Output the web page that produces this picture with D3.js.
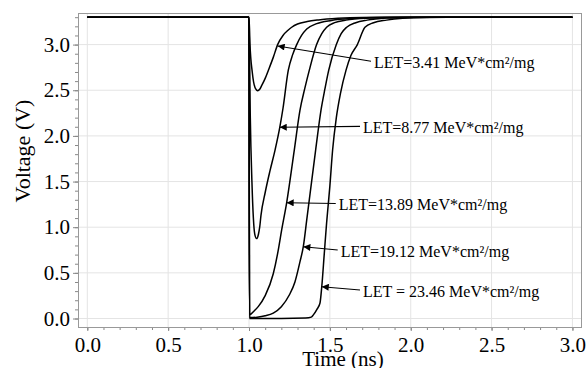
<!DOCTYPE html>
<html>
<head>
<meta charset="utf-8">
<script src="https://cdn.jsdelivr.net/npm/d3@7"></script>
<style>
  html, body { margin: 0; padding: 0; background: #fff; }
  svg { display: block; }
</style>
</head>
<body>
<svg id="chart" width="588" height="368"></svg>
<script>
// Output voltage transients (t in ns, V in volts) for five LET values
const letLabels = [
  "LET=3.41 MeV*cm²/mg",
  "LET=8.77 MeV*cm²/mg",
  "LET=13.89 MeV*cm²/mg",
  "LET=19.12 MeV*cm²/mg",
  "LET = 23.46 MeV*cm²/mg"
];

const let341 = [
  [0,3.3],[1.0,3.3],[1.006,3.0],[1.02,2.7],[1.037,2.53],[1.054,2.495],[1.066,2.51],
  [1.078,2.55],[1.1,2.63],[1.12,2.72],[1.15,2.86],[1.177,3.0],[1.21,3.1],[1.243,3.16],
  [1.264,3.19],[1.3,3.225],[1.36,3.252],[1.43,3.27],[1.55,3.288],[1.7,3.298],[1.9,3.3],[3.0,3.3]
];
const let877 = [
  [0,3.3],[1.0,3.3],[1.008,2.2],[1.018,1.5],[1.027,1.1],[1.035,0.93],[1.047,0.875],
  [1.058,0.92],[1.066,1.0],[1.074,1.13],[1.1,1.38],[1.13,1.62],[1.161,1.845],[1.19,2.09],
  [1.21,2.3],[1.243,2.72],[1.27,2.89],[1.295,3.0],[1.325,3.1],[1.357,3.17],[1.419,3.23],
  [1.51,3.265],[1.65,3.288],[1.8,3.298],[2.0,3.3],[3.0,3.3]
];
const let1389 = [
  [0,3.3],[1.0,3.3],[1.003,0.04],[1.03,0.08],[1.057,0.13],[1.1,0.25],[1.15,0.49],
  [1.18,0.74],[1.202,0.97],[1.233,1.27],[1.28,1.845],[1.315,2.28],[1.345,2.52],
  [1.373,2.72],[1.418,3.0],[1.45,3.12],[1.48,3.19],[1.53,3.24],[1.6,3.268],[1.75,3.29],
  [1.9,3.298],[2.1,3.3],[3.0,3.3]
];
const let1912 = [
  [0,3.3],[1.0,3.3],[1.003,0.01],[1.05,0.015],[1.1,0.03],[1.15,0.06],[1.2,0.13],
  [1.25,0.26],[1.284,0.4],[1.315,0.62],[1.336,0.79],[1.357,1.08],[1.412,1.845],
  [1.445,2.28],[1.47,2.52],[1.493,2.72],[1.54,3.0],[1.57,3.12],[1.604,3.19],[1.66,3.24],
  [1.73,3.268],[1.85,3.29],[2.0,3.298],[2.2,3.3],[3.0,3.3]
];
const let2346 = [
  [0,3.3],[1.0,3.3],[1.003,0.0],[1.2,0.0],[1.35,0.005],[1.385,0.015],[1.398,0.04],
  [1.42,0.1],[1.439,0.17],[1.45,0.35],[1.465,0.7],[1.48,1.05],[1.5,1.45],[1.517,1.845],
  [1.54,2.2],[1.565,2.46],[1.6,2.72],[1.63,2.88],[1.67,3.0],[1.717,3.19],[1.77,3.24],
  [1.85,3.268],[1.95,3.288],[2.1,3.298],[2.3,3.3],[3.0,3.3]
];
const seriesList = [let341, let877, let1389, let1912, let2346];

// Arrow tip on each curve and label anchor (text start, baseline), both in data units
const arrowTips = [[1.177,2.985],[1.19,2.094],[1.233,1.268],[1.336,0.786],[1.45,0.348]];
const labelAnchors = [[1.773,2.740],[1.705,2.028],[1.555,1.183],[1.567,0.674],[1.705,0.235]];

const xMajor = [0.0,0.5,1.0,1.5,2.0,2.5,3.0];
const yMajor = [0.0,0.5,1.0,1.5,2.0,2.5,3.0];
const xMinor = d3.range(0, 31).map(i => i / 10);
const yMinor = d3.range(0, 34).map(i => i / 10);

const SERIF = "Liberation Serif, Times New Roman, serif";

const svg = d3.select("#chart");
const plotL = 78, plotR = 581, plotT = 13, plotB = 327;

const x = d3.scaleLinear().domain([-0.0575, 3.053]).range([plotL, plotR]);
const y = d3.scaleLinear().domain([-0.093, 3.346]).range([plotB, plotT]);

// Grid
const grid = svg.append("g");
grid.selectAll("line.gx").data(xMajor).join("line")
  .attr("x1", d => x(d)).attr("x2", d => x(d))
  .attr("y1", plotT).attr("y2", plotB)
  .attr("stroke", "#e4e4e4").attr("stroke-width", 1);
grid.selectAll("line.gy").data(yMajor).join("line")
  .attr("x1", plotL).attr("x2", plotR)
  .attr("y1", d => y(d)).attr("y2", d => y(d))
  .attr("stroke", "#e4e4e4").attr("stroke-width", 1);

// Axes with minor ticks
const fmt = d3.format(".1f");
const yAxisMinor = d3.axisLeft(y).tickValues(yMinor).tickSize(3).tickFormat("");
const yAxisMajor = d3.axisLeft(y).tickValues(yMajor).tickSize(5).tickPadding(3).tickFormat(fmt);
const xAxisMinor = d3.axisBottom(x).tickValues(xMinor).tickSize(3).tickFormat("");
const xAxisMajor = d3.axisBottom(x).tickValues(xMajor).tickSize(4).tickPadding(6).tickFormat(fmt);

function styleAxis(g) {
  g.attr("font-family", SERIF).attr("font-size", 21);
  g.select(".domain").remove();
  g.selectAll(".tick line").attr("stroke", "#888");
  g.selectAll(".tick text").attr("fill", "#000");
}
svg.append("g").attr("transform", `translate(${plotL},0)`).call(yAxisMinor).call(styleAxis);
svg.append("g").attr("transform", `translate(${plotL},0)`).call(yAxisMajor).call(styleAxis);
svg.append("g").attr("transform", `translate(0,${plotB})`).call(xAxisMinor).call(styleAxis);
svg.append("g").attr("transform", `translate(0,${plotB})`).call(xAxisMajor).call(styleAxis);

// Frame
svg.append("rect")
  .attr("x", plotL + 0.5).attr("y", plotT + 0.5)
  .attr("width", plotR - plotL).attr("height", plotB - plotT)
  .attr("fill", "none").attr("stroke", "#999").attr("stroke-width", 1);

// Curves
const line = d3.line().x(d => x(d[0])).y(d => y(d[1])).curve(d3.curveMonotoneX);
svg.append("g").selectAll("path").data(seriesList).join("path")
  .attr("d", line)
  .attr("fill", "none").attr("stroke", "#000")
  .attr("stroke-width", 1.5).attr("stroke-linejoin", "round");

// Annotations with arrows
svg.append("defs").append("marker")
  .attr("id", "arrowhead").attr("viewBox", "0 0 10 10")
  .attr("refX", 10).attr("refY", 5)
  .attr("markerWidth", 9).attr("markerHeight", 7)
  .attr("markerUnits", "userSpaceOnUse")
  .attr("orient", "auto")
  .append("path").attr("d", "M0,0 L10,5 L0,10 Z").attr("fill", "#000");

const ann = svg.append("g").attr("font-family", SERIF).attr("font-size", 16);
letLabels.forEach((txt, i) => {
  const lx = x(labelAnchors[i][0]), ly = y(labelAnchors[i][1]);
  ann.append("line")
    .attr("x1", lx - 3).attr("y1", ly - 7)
    .attr("x2", x(arrowTips[i][0])).attr("y2", y(arrowTips[i][1]))
    .attr("stroke", "#000").attr("stroke-width", 1.1)
    .attr("marker-end", "url(#arrowhead)");
  ann.append("text")
    .attr("x", lx).attr("y", ly)
    .attr("fill", "#000")
    .text(txt);
});

// Axis titles
svg.append("text")
  .attr("transform", "translate(30,151) rotate(-90)")
  .attr("text-anchor", "middle")
  .attr("font-family", SERIF).attr("font-size", 22)
  .text("Voltage (V)");
svg.append("text")
  .attr("x", 343).attr("y", 366)
  .attr("text-anchor", "middle")
  .attr("font-family", SERIF).attr("font-size", 21)
  .text("Time (ns)");
</script>
</body>
</html>
